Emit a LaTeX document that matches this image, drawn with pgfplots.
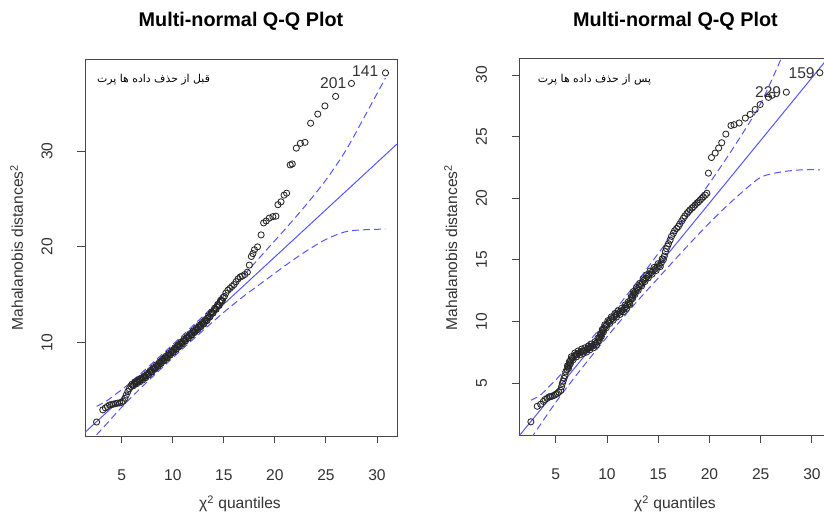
\documentclass[border=0pt]{standalone}
\usepackage{fontspec}
\setmainfont{Liberation Sans}
\newfontfamily\arabicfont[Script=Arabic]{DejaVu Sans}
\TeXXeTstate=1
\usepackage{pgfplots}
\pgfplotsset{compat=1.18}

\definecolor{refblue}{RGB}{85,85,255}
\definecolor{boxgray}{RGB}{70,70,70}
\definecolor{txtgray}{RGB}{50,50,50}

\tikzset{
  idlab/.style={anchor=east, xshift=-5pt, inner sep=0pt,
    font=\fontsize{15.6}{18}\selectfont, text=txtgray},
}
\pgfplotsset{
  qq/.style={
    scale only axis, width=312pt, height=377pt,
    axis line style={boxgray, line width=0.9pt},
    tick style={boxgray, line width=0.9pt},
    tick align=outside, major tick length=7.5pt,
    xtick pos=bottom, ytick pos=left,
    xtick={5,10,...,30},
    ticklabel style={font=\fontsize{15.6}{18}\selectfont, text=txtgray, inner sep=0pt},
    /pgf/number format/assume math mode=true,
    xticklabel style={anchor=base, yshift=-36.7pt},
    yticklabel style={anchor=base, xshift=-25pt, rotate=90},
  },
  pts/.style={only marks, mark=o, mark size=3.1pt,
    mark options={line width=0.85pt, draw=black!85}},
  refl/.style={refblue, line width=1pt},
  env/.style={refblue, line width=1pt, dash pattern=on 7pt off 4pt, smooth},
}

\begin{document}
\begin{tikzpicture}

% ---------- before removing outliers ----------
\begin{axis}[qq, at={(85pt,80pt)}, anchor=south west,
  xmin=1.406, xmax=31.96, ymin=0.27, ymax=39.6,
  ytick={10,20,30}]

\addplot[pts] table {
x y
2.54 1.73
3.15 3.0
3.4 3.2
3.6 3.35
3.8 3.5
4.0 3.55
4.2 3.6
4.4 3.65
4.6 3.7
4.8 3.72
5.0 3.8
5.15 3.9
5.3 4.2
5.45 4.55
5.6 4.9
5.75 5.2
5.9 5.45
6.000 5.67
6.075 5.55
6.150 5.52
6.225 5.75
6.300 5.92
6.375 5.79
6.450 5.72
6.525 5.99
6.600 6.11
6.675 5.99
6.750 5.91
6.825 6.19
6.900 6.31
6.975 6.18
7.050 6.11
7.125 6.38
7.200 6.51
7.275 6.38
7.350 6.35
7.425 6.63
7.500 6.80
7.575 6.67
7.650 6.65
7.725 6.92
7.800 7.10
7.875 6.97
7.950 6.94
8.025 7.22
8.100 7.39
8.175 7.27
8.250 7.24
8.325 7.51
8.400 7.69
8.475 7.56
8.550 7.53
8.625 7.81
8.700 7.98
8.775 7.86
8.850 7.83
8.925 8.10
9.000 8.28
9.075 8.15
9.150 8.13
9.225 8.40
9.300 8.57
9.375 8.45
9.450 8.42
9.525 8.69
9.600 8.87
9.675 8.74
9.750 8.72
9.825 8.99
9.900 9.16
9.975 9.04
10.050 9.01
10.125 9.29
10.200 9.46
10.275 9.33
10.350 9.31
10.425 9.58
10.500 9.75
10.575 9.63
10.650 9.60
10.725 9.88
10.800 10.05
10.875 9.92
10.950 9.90
11.025 10.17
11.100 10.35
11.175 10.22
11.250 10.19
11.325 10.47
11.400 10.64
11.475 10.51
11.550 10.49
11.625 10.76
11.700 10.94
11.775 10.81
11.850 10.78
11.925 11.06
12.000 11.23
12.075 11.10
12.150 11.08
12.225 11.35
12.300 11.53
12.375 11.40
12.450 11.37
12.525 11.65
12.600 11.82
12.675 11.70
12.750 11.67
12.825 11.94
12.900 12.12
12.975 11.99
13.050 11.96
13.125 12.24
13.200 12.41
13.275 12.29
13.350 12.31
13.425 12.58
13.500 12.81
13.575 12.68
13.650 12.71
13.725 12.98
13.800 13.20
13.875 13.08
13.950 13.10
14.025 13.37
14.100 13.60
14.175 13.47
14.250 13.50
14.325 13.77
14.400 13.99
14.475 13.87
14.550 13.89
14.625 14.22
14.700 14.44
14.775 14.36
14.850 14.39
14.925 14.71
15.05 14.83
15.2 15.18
15.4 15.48
15.6 15.67
15.8 15.87
16.0 16.07
16.2 16.37
16.4 16.67
16.6 16.86
16.8 16.96
17.05 17.11
17.3 17.36
17.5 18.1
17.7 19.0
17.85 19.3
18.0 19.7
18.3 20.0
18.65 21.25
18.9 22.5
19.15 22.7
19.45 23.0
19.8 23.15
20.1 23.2
20.3 24.4
20.6 24.7
20.9 25.4
21.15 25.6
21.5 28.55
21.7 28.65
22.1 30.3
22.5 30.8
22.95 30.9
23.5 32.9
24.2 33.85
24.9 34.7
25.95 35.7
27.5 37.05
30.83 38.15
};
\addplot[refl] coordinates {(1.406,0.65) (31.96,30.73)};
\addplot[env] coordinates {
  (2.54,3.37) (3.5,3.91) (4.5,4.7) (5.5,5.53) (7,6.91) (9,8.83) (11,10.8)
  (13,12.81) (15,14.88) (17,17.1) (19,19.47) (21,21.84) (23,24.31)
  (25,26.98) (27,30.15) (29,34.02) (30.83,37.62)};
\addplot[env] coordinates {
  (2.54,0.4) (3.5,1.51) (4.5,2.7) (5.5,3.83) (7,5.41) (9,7.43) (11,9.4)
  (13,11.31) (15,13.18) (17,14.9) (19,16.47) (21,18.04) (23,19.51)
  (25,20.78) (27,21.6) (29,21.8) (30.83,21.85)};

\node[idlab] at (axis cs:27.5,37.05) {201};
\node[idlab, xshift=-2pt, yshift=2pt] at (axis cs:30.83,38.15) {141};
\end{axis}

% ---------- after removing outliers ----------
\begin{axis}[qq, at={(519.3pt,80.3pt)}, anchor=south west,
  xmin=1.449, xmax=31.89, ymin=0.72, ymax=31.32,
  ytick={5,10,...,30}]

\addplot[pts] table {
x y
2.58 1.85
3.2 3.11
3.54 3.27
3.8 3.5
3.96 3.66
4.15 3.75
4.35 3.87
4.5 3.9
4.67 3.93
4.85 4.0
5.0 4.08
5.16 4.15
5.3 4.25
5.49 4.4
5.57 4.7
5.65 4.96
5.73 5.15
5.81 5.37
5.9 5.6
5.98 5.9
6.1 6.1
6.15 6.4
6.2 6.3
6.25 6.18
6.3 6.45
6.34 6.75
6.38 6.65
6.42 6.55
6.46 6.85
6.53 7.13
6.6 7.0
6.7 6.89
6.79 7.18
6.87 7.43
6.95 7.28
7.03 7.12
7.1 7.35
7.19 7.6
7.28 7.45
7.37 7.29
7.45 7.52
7.53 7.75
7.6 7.58
7.68 7.4
7.75 7.62
7.84 7.85
7.93 7.67
8.02 7.51
8.1 7.75
8.18 8.0
8.25 7.85
8.33 7.69
8.4 7.92
8.49 8.16
8.58 8.0
8.67 7.85
8.75 8.1
8.83 8.35
8.9 8.2
8.98 8.07
9.06 8.34
9.13 8.65
9.2 8.55
9.25 8.43
9.3 8.7
9.35 9.0
9.4 8.89
9.45 8.77
9.5 9.05
9.55 9.35
9.6 9.25
9.66 9.14
9.72 9.43
9.79 9.72
9.85 9.6
9.93 9.48
10.0 9.75
10.1 10.06
10.2 9.97
10.28 9.84
10.35 10.1
10.43 10.36
10.5 10.22
10.6 10.1
10.7 10.38
10.78 10.64
10.86 10.5
10.93 10.35
11.0 10.6
11.1 10.86
11.2 10.72
11.28 10.57
11.35 10.82
11.43 11.06
11.5 10.9
11.6 10.78
11.7 11.05
11.78 11.33
11.85 11.2
11.93 11.06
12.0 11.32
12.08 11.59
12.16 11.46
12.23 11.38
12.3 11.7
12.38 12.03
12.45 11.95
12.5 11.85
12.55 12.15
12.6 12.43
12.65 12.3
12.73 12.18
12.8 12.45
12.88 12.74
12.95 12.62
13.04 12.51
13.13 12.8
13.22 13.09
13.3 12.98
13.38 12.87
13.45 13.15
13.53 13.45
13.6 13.35
13.7 13.23
13.8 13.5
13.88 13.78
13.95 13.65
14.03 13.53
14.1 13.8
14.2 14.08
14.3 13.95
14.4 13.83
14.5 14.1
14.6 14.38
14.7 14.25
14.8 14.13
14.9 14.4
15.0 14.68
15.1 14.55
15.2 14.45
15.3 14.75
15.4 15.08
15.5 15.0
15.6 15.3
15.7 15.66
15.8 15.9
15.9 16.1
16.0 16.3
16.16 16.6
16.3 16.9
16.48 17.15
16.6 17.35
16.8 17.55
16.97 17.7
17.1 17.9
17.3 18.15
17.46 18.37
17.6 18.55
17.8 18.75
17.95 18.9
18.1 19.05
18.3 19.2
18.44 19.3
18.6 19.45
18.78 19.6
18.93 19.7
19.1 19.85
19.25 19.98
19.4 20.1
19.6 20.25
19.75 20.4
19.9 22.03
20.2 23.3
20.56 23.66
20.9 24.07
21.2 24.5
21.6 25.2
22.1 25.9
22.4 25.96
22.9 26.1
23.5 26.5
23.97 26.8
24.46 27.2
24.95 27.6
25.76 28.18
26.1 28.35
27.5 28.6
30.77 30.18
};
\addplot[refl] coordinates {(1.449,0.72) (31.2,31.0) (31.89,31.7)};
\addplot[env] coordinates {
  (2.58,3.6) (3.5,4.01) (4.5,4.83) (5.5,5.69) (7,7.12) (9,9.11) (11,11.14)
  (13,13.28) (15,15.51) (17,17.75) (19,20.03) (21,22.42) (23,24.95)
  (25,27.69) (27,31.33) (28,33.4)};
\addplot[env] coordinates {
  (2.58,0.5) (3.5,1.61) (4.5,2.83) (5.5,3.99) (7,5.62) (9,7.71) (11,9.74)
  (13,11.68) (15,13.51) (17,15.35) (19,17.13) (21,18.82) (23,20.35)
  (25,21.69) (27,22.13) (29,22.3) (30.77,22.3)};

\node[idlab] at (axis cs:27.5,28.6) {229};
\node[idlab] at (axis cs:30.77,30.18) {159};
\end{axis}

% ---------- titles and labels ----------
\node[anchor=base, font=\bfseries\fontsize{19.8}{23}\selectfont] at (241pt,489.3pt) {Multi-normal Q-Q Plot};
\node[anchor=base, font=\bfseries\fontsize{19.8}{23}\selectfont] at (675.5pt,489.3pt) {Multi-normal Q-Q Plot};

\node[anchor=base, text=txtgray, font=\fontsize{15.6}{18}\selectfont] at (240pt,7.5pt) {χ\textsuperscript{2} quantiles};
\node[anchor=base, text=txtgray, font=\fontsize{15.6}{18}\selectfont] at (675pt,7.5pt) {χ\textsuperscript{2} quantiles};

\node[anchor=base, rotate=90, text=txtgray, font=\fontsize{15.6}{18}\selectfont] at (23pt,268.5pt) {Mahalanobis distances\textsuperscript{2}};
\node[anchor=base, rotate=90, text=txtgray, font=\fontsize{15.6}{18}\selectfont] at (457pt,268.5pt) {Mahalanobis distances\textsuperscript{2}};

\node[font=\arabicfont\fontsize{10.9}{13}\selectfont] at (153.5pt,436pt) {\beginR قبل از حذف داده ها پرت\endR};
\node[font=\arabicfont\fontsize{10.9}{13}\selectfont] at (594.5pt,436pt) {\beginR پس از حذف داده ها پرت\endR};

\pgfresetboundingbox
\path[use as bounding box] (0pt,0pt) rectangle (824pt,516pt);
\end{tikzpicture}
\end{document}
